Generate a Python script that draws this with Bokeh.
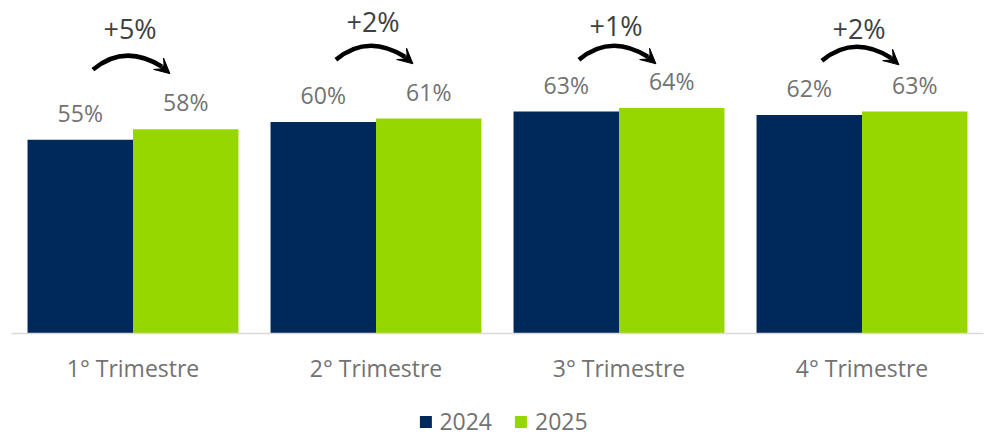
from bokeh.plotting import figure
from bokeh.models import (ColumnDataSource, Range1d, FixedTicker, Legend, LegendItem,
                          Arrow, VeeHead, Spacer)
from bokeh.layouts import column, row
from bokeh.core.properties import value
from bokeh.embed import file_html
from bokeh.resources import INLINE

# ---- data ----
quarters = ["1° Trimestre", "2° Trimestre", "3° Trimestre", "4° Trimestre"]
y2024 = [55, 60, 63, 62]
y2025 = [58, 61, 64, 63]
deltas = ["+5%", "+2%", "+1%", "+2%"]
series_names = ["2024", "2025"]

# ---- layout constants (annotation placement, value units) ----
arrow_base = [74.9, 77.7, 77.7, 77.4]
delta_text_y = [86.6, 88.6, 87.5, 86.7]

NAVY = "#00295B"
GREEN = "#97D700"
GRAY = "#727272"
DARK = "#404040"
FONT = "Open Sans"

idx = list(range(len(quarters)))
off = 0.217
bw = 0.434

p = figure(width=984, height=397, output_backend="svg", toolbar_location=None,
           x_range=Range1d(-0.5, 3.5), y_range=Range1d(0, 94.52),
           min_border_left=11, min_border_right=1, min_border_top=0, min_border_bottom=64)
p.outline_line_color = None
p.xgrid.visible = False
p.ygrid.visible = False
p.yaxis.visible = False

src24 = ColumnDataSource(dict(x=[i - off for i in idx], top=y2024,
                              lab=[f"{v}%" for v in y2024]))
src25 = ColumnDataSource(dict(x=[i + off for i in idx], top=y2025,
                              lab=[f"{v}%" for v in y2025]))

r24 = p.vbar(x="x", top="top", width=bw, bottom=0, source=src24,
             fill_color=NAVY, line_color=None)
r25 = p.vbar(x="x", top="top", width=bw, bottom=0, source=src25,
             fill_color=GREEN, line_color=None)

for s in (src24, src25):
    p.text(x="x", y="top", text="lab", source=s, text_align="center",
           text_baseline="middle", y_offset=-27, text_font=value(FONT),
           text_font_size="23px", text_color=GRAY)

# curved arrows
arc = ColumnDataSource(dict(
    x0=[i - 0.165 for i in idx], y0=arrow_base,
    cx=[i - 0.035 for i in idx], cy=[b + 7.5 for b in arrow_base],
    x1=[i + 0.119 for i in idx], y1=[b + 0.85 for b in arrow_base],
    xt=[i + 0.152 for i in idx], yt=[b - 1.14 for b in arrow_base],
    tx=[i - 0.012 for i in idx], ty=delta_text_y, d=deltas,
))
p.quadratic(x0="x0", y0="y0", x1="x1", y1="y1", cx="cx", cy="cy", source=arc,
            line_color="black", line_width=4.5)
p.add_layout(Arrow(x_start="x1", y_start="y1", x_end="xt", y_end="yt", source=arc,
                   line_color="black", line_width=4.5,
                   end=VeeHead(size=15, fill_color="black", line_color="black",
                               line_width=1)))
p.text(x="tx", y="ty", text="d", source=arc, text_align="center",
       text_baseline="middle", text_font=value(FONT), text_font_size="27px",
       text_color=DARK)

# x axis
ax = p.xaxis[0]
ax.ticker = FixedTicker(ticks=idx)
ax.major_label_overrides = {i: q for i, q in zip(idx, quarters)}
ax.axis_line_color = "#d9d9d9"
ax.axis_line_width = 1.5
ax.major_tick_line_color = None
ax.minor_tick_line_color = None
ax.major_tick_out = 0
ax.major_label_standoff = 18
ax.major_label_text_font = FONT
ax.major_label_text_font_size = "23px"
ax.major_label_text_color = GRAY

# legend strip (swatches taken from hidden proxy renderers)
lf = figure(width=965, height=40, output_backend="svg", toolbar_location=None,
            x_range=Range1d(0, 1), y_range=Range1d(0, 1),
            min_border_left=0, min_border_right=0, min_border_top=0, min_border_bottom=0)
lf.outline_line_color = None
lf.axis.visible = False
lf.grid.visible = False
proxy = ColumnDataSource(dict(x=[-10.0], top=[0.0]))
l24 = lf.vbar(x="x", top="top", width=1, source=proxy, fill_color=NAVY, line_color=None)
l25 = lf.vbar(x="x", top="top", width=1, source=proxy, fill_color=GREEN, line_color=None)
legend = Legend(items=[LegendItem(label=series_names[0], renderers=[l24]),
                       LegendItem(label=series_names[1], renderers=[l25])],
                orientation="horizontal", location="bottom",
                glyph_width=15, glyph_height=15, label_standoff=7, spacing=21,
                label_text_font=FONT, label_text_font_size="23px",
                label_text_color=GRAY, border_line_color=None,
                background_fill_alpha=0, padding=0, margin=0)
lf.add_layout(legend, "center")

layout = column(p, row(Spacer(width=20, height=40), lf))

open("out.html", "w").write(file_html(layout, INLINE))
